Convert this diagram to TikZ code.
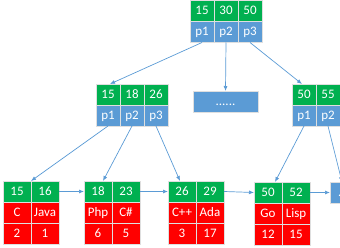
\documentclass[tikz,border=0pt]{standalone}
\usepackage{fontspec}
\setmainfont{Carlito}
\usetikzlibrary{positioning,arrows.meta}
\definecolor{keygreen}{HTML}{00B050}
\definecolor{ptrblue}{HTML}{5B9BD5}
\definecolor{datared}{HTML}{FF0000}
\tikzset{
  cell/.style={draw=gray!25, line width=0.8pt, text=white, font=\fontsize{13}{15}\selectfont,
    inner sep=0pt, outer sep=0pt, minimum height=21pt, text height=8.5pt, text depth=1pt},
  keycell/.style={cell, fill=keygreen, minimum width=24pt},
  ptrcell/.style={cell, fill=ptrblue, minimum width=24pt},
  leafkey/.style={cell, fill=keygreen, minimum width=28pt},
  leafdat/.style={cell, fill=datared, minimum width=28pt},
  link/.style={draw=ptrblue, line width=0.7pt, -{Latex[length=5pt,width=4pt]}},
}
\begin{document}
\begin{tikzpicture}[x=1pt, y=-1pt]
  \useasboundingbox (0,0) rectangle (340,248);
  \clip (0,0) rectangle (340,248);

  % root
  \node[keycell] (rk1) at (202,11) {15};
  \node[keycell, right=0pt of rk1] (rk2) {30};
  \node[keycell, right=0pt of rk2] (rk3) {50};
  \node[ptrcell, below=0pt of rk1] (rp1) {p1};
  \node[ptrcell, below=0pt of rk2] (rp2) {p2};
  \node[ptrcell, below=0pt of rk3] (rp3) {p3};

  % second level
  \node[keycell] (ak1) at (108,94.5) {15};
  \node[keycell, right=0pt of ak1] (ak2) {18};
  \node[keycell, right=0pt of ak2] (ak3) {26};
  \node[ptrcell, below=0pt of ak1] (ap1) {p1};
  \node[ptrcell, below=0pt of ak2] (ap2) {p2};
  \node[ptrcell, below=0pt of ak3] (ap3) {p3};

  \node[cell, fill=ptrblue, minimum width=65pt] (mid) at (225.5,101.5) {......};

  \node[keycell] (bk1) at (304,94.5) {50};
  \node[keycell, right=0pt of bk1] (bk2) {55};
  \node[ptrcell, below=0pt of bk1] (bp1) {p1};
  \node[ptrcell, below=0pt of bk2] (bp2) {p2};

  % leaves
  \node[leafkey] (l1k1) at (17,191.5) {15};
  \node[leafkey, right=0pt of l1k1] (l1k2) {16};
  \node[leafdat, below=0pt of l1k1] (l1d1) {C};
  \node[leafdat, below=0pt of l1k2] (l1d2) {Java};
  \node[leafdat, below=0pt of l1d1] (l1v1) {2};
  \node[leafdat, below=0pt of l1d2] (l1v2) {1};

  \node[leafkey] (l2k1) at (98,191.5) {18};
  \node[leafkey, right=0pt of l2k1] (l2k2) {23};
  \node[leafdat, below=0pt of l2k1] (l2d1) {Php};
  \node[leafdat, below=0pt of l2k2] (l2d2) {C\#};
  \node[leafdat, below=0pt of l2d1] (l2v1) {6};
  \node[leafdat, below=0pt of l2d2] (l2v2) {5};

  \node[leafkey] (l3k1) at (182,191.5) {26};
  \node[leafkey, right=0pt of l3k1] (l3k2) {29};
  \node[leafdat, below=0pt of l3k1] (l3d1) {C++};
  \node[leafdat, below=0pt of l3k2] (l3d2) {Ada};
  \node[leafdat, below=0pt of l3d1] (l3v1) {3};
  \node[leafdat, below=0pt of l3d2] (l3v2) {17};

  \node[leafkey] (l4k1) at (268,192.5) {50};
  \node[leafkey, right=0pt of l4k1] (l4k2) {52};
  \node[leafdat, below=0pt of l4k1] (l4d1) {Go};
  \node[leafdat, below=0pt of l4k2] (l4d2) {Lisp};
  \node[leafdat, below=0pt of l4d1] (l4v1) {12};
  \node[leafdat, below=0pt of l4d2] (l4v2) {15};

  \node[cell, fill=ptrblue, minimum width=36pt] (l5) at (348,192.5) {......};

  % pointers
  \draw[link] (rp1.south) -- ([xshift=2pt]ak1.north);
  \draw[link] (rp2.south) -- (mid.north);
  \draw[link] (rp3.south) -- ([xshift=-2pt]bk1.north);
  \draw[link] (ap1.south) -- (l1k1.north east);
  \draw[link] (ap2.south) -- ([xshift=5pt]l2k1.north);
  \draw[link] (ap3.south) -- ([xshift=-2pt]l3k1.north);
  \draw[link] (bp1.south) -- ([xshift=7pt]l4k1.north);
  \draw[link] (bp2.south) -- ([xshift=-6pt]l5.north);

  % leaf chain
  \draw[link] (l1k2.east) -- (l2k1.west);
  \draw[link] (l2k2.east) -- (l3k1.west);
  \draw[link] (l3k2.east) -- (l4k1.west);
  \draw[link] (l4k2.east) -- (l5.west);
\end{tikzpicture}
\end{document}
